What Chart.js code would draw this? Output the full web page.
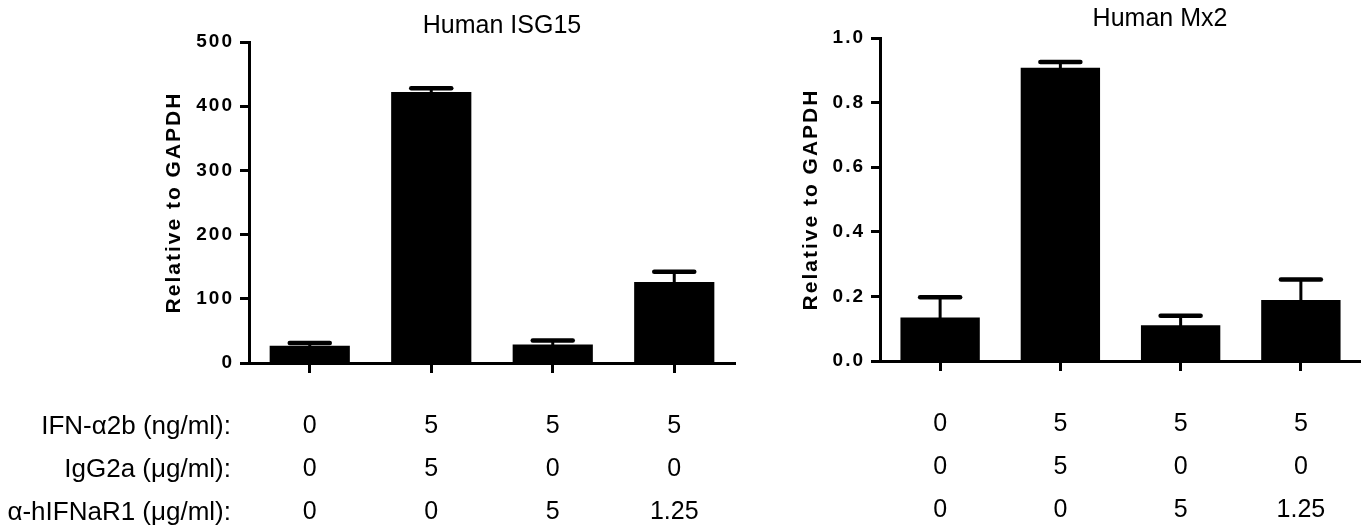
<!DOCTYPE html>
<html>
<head>
<meta charset="utf-8">
<script src="https://cdn.jsdelivr.net/npm/chart.js@4"></script>
<style>
  body { margin: 0; background: #fff; }
  .box { position: absolute; top: 0; height: 525px; }
  #b1 { left: 0; width: 760px; }
  #b2 { left: 760px; width: 601px; }
</style>
</head>
<body>
<div class="box" id="b1"><canvas id="c1"></canvas></div>
<div class="box" id="b2"><canvas id="c2"></canvas></div>
<script>
// conditions (table under the bars)
const ifn = ['0', '5', '5', '5'];
const igg = ['0', '5', '0', '0'];
const antiR = ['0', '0', '5', '1.25'];
const rowNames = ['IFN-\u03b12b (ng/ml):', 'IgG2a (\u03bcg/ml):', '\u03b1-hIFNaR1 (\u03bcg/ml):'];

// values (mean, upper error)
const isg15 = [27, 422, 29, 126];
const isg15Err = [4, 6, 6, 16];
const mx2 = [0.135, 0.908, 0.111, 0.189];
const mx2Err = [0.062, 0.018, 0.029, 0.063];

const labels = ifn.map((v, i) => [v, igg[i], antiR[i]]);
const FONT = 'Liberation Sans, Arial, Helvetica, sans-serif';

const ROW_H = 43;
const TICK_LEN = 10;
const TICK_PAD = 32;

// error bars + letter spacing + titles + row labels
const extras = {
  id: 'extras',
  beforeDraw(chart) {
    chart.ctx.letterSpacing = '2px';
  },
  afterDatasetsDraw(chart, args, opts) {
    const ctx = chart.ctx;
    ctx.letterSpacing = '0px';
    const meta = chart.getDatasetMeta(0);
    const y = chart.scales.y;
    const vals = chart.data.datasets[0].data;
    ctx.save();
    ctx.strokeStyle = '#000';
    ctx.lineCap = 'round';
    meta.data.forEach((bar, i) => {
      const top = y.getPixelForValue(vals[i] + opts.err[i]);
      ctx.lineWidth = 3;
      ctx.beginPath();
      ctx.moveTo(bar.x, bar.y);
      ctx.lineTo(bar.x, top);
      ctx.stroke();
      ctx.lineWidth = 4.5;
      ctx.beginPath();
      ctx.moveTo(bar.x - 20, top);
      ctx.lineTo(bar.x + 20, top);
      ctx.stroke();
    });
    ctx.restore();
  },
  afterDraw(chart, args, opts) {
    const ctx = chart.ctx;
    ctx.save();
    ctx.letterSpacing = '0px';
    ctx.fillStyle = '#000';
    ctx.font = '25px ' + FONT;
    ctx.textAlign = 'center';
    ctx.textBaseline = 'middle';
    ctx.fillText(opts.title, opts.titleX, opts.titleY);
    if (opts.rows) {
      const x = chart.scales.x;
      ctx.font = '26px ' + FONT;
      ctx.textAlign = 'right';
      rowNames.forEach((t, i) => {
        ctx.fillText(t, opts.rowX, x.top + TICK_LEN + TICK_PAD + ROW_H * (i + 0.5));
      });
    }
    ctx.restore();
  }
};

function makeChart(id, vals, err, o) {
  return new Chart(document.getElementById(id), {
    type: 'bar',
    data: {
      labels: labels,
      datasets: [{
        data: vals,
        backgroundColor: '#000',
        borderWidth: 0,
        barPercentage: 0.66,
        categoryPercentage: 1
      }]
    },
    options: {
      responsive: true,
      maintainAspectRatio: false,
      animation: false,
      layout: { padding: { left: o.padLeft, top: o.padTop, right: o.padRight, bottom: 0 } },
      plugins: {
        legend: { display: false },
        tooltip: { enabled: false },
        extras: { err: err, title: o.title, titleX: o.titleX, titleY: o.titleY, rows: o.rows, rowX: 231 }
      },
      scales: {
        x: {
          offset: true,
          afterFit(s) { s.height = o.xHeight; },
          grid: { display: true, offset: false, drawOnChartArea: false, drawTicks: true, tickLength: TICK_LEN, tickColor: '#000', tickWidth: 3 },
          border: { display: true, color: '#000', width: 3 },
          ticks: {
            z: 1,
            color: '#000',
            padding: TICK_PAD,
            maxRotation: 0,
            autoSkip: false,
            font: { family: FONT, size: 25, lineHeight: ROW_H / 25 }
          }
        },
        y: {
          min: 0,
          max: o.max,
          afterFit(s) { s.width = o.yWidth; },
          grid: { display: true, drawOnChartArea: false, drawTicks: true, tickLength: 9, tickColor: '#000', tickWidth: 3 },
          border: { display: true, color: '#000', width: 3 },
          ticks: {
            stepSize: o.step,
            color: '#000',
            padding: 6,
            font: { family: FONT, size: 19, weight: 'bold' },
            callback: o.fmt
          },
          title: {
            display: true,
            text: 'Relative to GAPDH',
            color: '#000',
            font: { family: FONT, size: 21, weight: 'bold' }
          }
        }
      }
    },
    plugins: [extras]
  });
}

makeChart('c1', isg15, isg15Err, {
  max: 500, step: 100, fmt: v => String(v),
  padLeft: 158, yWidth: 91, padTop: 42, padRight: 25, xHeight: 162,
  title: 'Human ISG15', titleX: 502, titleY: 26, rows: true
});
makeChart('c2', mx2, mx2Err, {
  max: 1.0, step: 0.2, fmt: v => v.toFixed(1),
  padLeft: 35, yWidth: 85, padTop: 38, padRight: 0, xHeight: 164,
  title: 'Human Mx2', titleX: 400, titleY: 19, rows: false
});
</script>
</body>
</html>
